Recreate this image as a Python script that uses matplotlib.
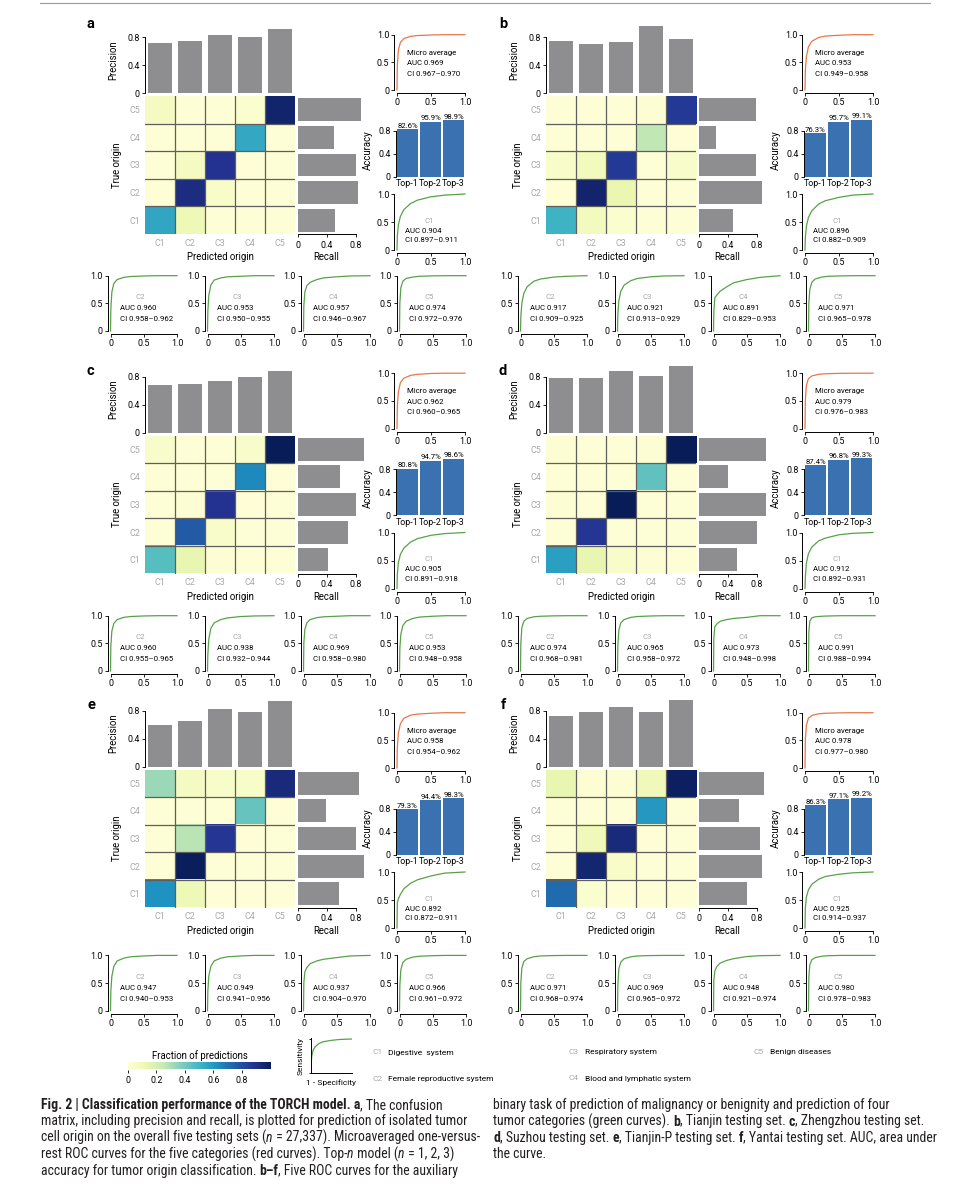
#!/usr/bin/env python3
# torch model fig 2 - confusion matrices, roc curves, accuracy bars

import numpy as np
import matplotlib
matplotlib.use("Agg")
import matplotlib.pyplot as plt
from matplotlib import font_manager
from matplotlib.lines import Line2D

W, H = 955, 1200


def pick_font(names):
    have = {f.name for f in font_manager.fontManager.ttflist}
    for n in names:
        if n in have:
            return n
    return 'DejaVu Sans'


FONT = pick_font(['Roboto', 'Inter', 'DejaVu Sans'])
CAP_FONT = pick_font(['Liberation Sans Narrow', 'Roboto Condensed', 'DejaVu Sans Condensed',
                      'Roboto', 'Liberation Sans'])
plt.rcParams['font.family'] = [FONT, 'DejaVu Sans']

# ---------------- data ----------------
classes = ['C1', 'C2', 'C3', 'C4', 'C5']
panels = ['a', 'b', 'c', 'd', 'e', 'f']
top_n = ['Top-1', 'Top-2', 'Top-3']

precision = {
    'a': [0.72, 0.75, 0.83, 0.80, 0.92],
    'b': [0.75, 0.71, 0.74, 0.96, 0.78],
    'c': [0.69, 0.70, 0.74, 0.80, 0.88],
    'd': [0.79, 0.79, 0.88, 0.81, 0.96],
    'e': [0.60, 0.66, 0.83, 0.78, 0.94],
    'f': [0.73, 0.78, 0.86, 0.78, 0.95],
}
recall = {
    'a': [0.51, 0.84, 0.81, 0.50, 0.88],
    'b': [0.47, 0.88, 0.79, 0.24, 0.79],
    'c': [0.42, 0.70, 0.81, 0.59, 0.92],
    'd': [0.53, 0.80, 0.93, 0.40, 0.93],
    'e': [0.57, 0.91, 0.80, 0.39, 0.85],
    'f': [0.66, 0.87, 0.85, 0.55, 0.90],
}
# rows = true C1..C5, columns = predicted C1..C5
confusion = {
    'a': [[0.51, 0.10, 0.01, 0.01, 0.01],
          [0.01, 0.84, 0.05, 0.01, 0.01],
          [0.01, 0.07, 0.81, 0.01, 0.01],
          [0.01, 0.01, 0.01, 0.50, 0.01],
          [0.07, 0.01, 0.01, 0.03, 0.88]],
    'b': [[0.47, 0.08, 0.03, 0.01, 0.01],
          [0.01, 0.88, 0.12, 0.01, 0.01],
          [0.05, 0.08, 0.79, 0.01, 0.04],
          [0.01, 0.01, 0.01, 0.24, 0.01],
          [0.01, 0.01, 0.01, 0.02, 0.79]],
    'c': [[0.42, 0.13, 0.02, 0.01, 0.01],
          [0.01, 0.70, 0.05, 0.01, 0.01],
          [0.01, 0.02, 0.81, 0.01, 0.01],
          [0.01, 0.01, 0.01, 0.59, 0.01],
          [0.04, 0.01, 0.01, 0.04, 0.92]],
    'd': [[0.53, 0.13, 0.04, 0.02, 0.01],
          [0.01, 0.80, 0.01, 0.01, 0.01],
          [0.02, 0.01, 0.93, 0.01, 0.01],
          [0.01, 0.01, 0.01, 0.40, 0.01],
          [0.02, 0.01, 0.01, 0.02, 0.93]],
    'e': [[0.57, 0.10, 0.01, 0.01, 0.01],
          [0.01, 0.91, 0.01, 0.01, 0.01],
          [0.01, 0.25, 0.80, 0.01, 0.01],
          [0.01, 0.01, 0.01, 0.39, 0.01],
          [0.30, 0.07, 0.05, 0.05, 0.85]],
    'f': [[0.66, 0.03, 0.01, 0.01, 0.01],
          [0.01, 0.87, 0.05, 0.01, 0.01],
          [0.01, 0.09, 0.85, 0.01, 0.01],
          [0.01, 0.01, 0.01, 0.55, 0.01],
          [0.13, 0.02, 0.02, 0.09, 0.90]],
}
accuracy = {
    'a': [82.6, 95.9, 98.9],
    'b': [76.3, 95.7, 99.1],
    'c': [80.8, 94.7, 98.6],
    'd': [87.4, 96.8, 99.3],
    'e': [79.3, 94.4, 98.3],
    'f': [86.3, 97.1, 99.2],
}
# (auc, ci low, ci high) for micro average then C1..C5
micro_auc = {
    'a': ('0.969', '0.967', '0.970'), 'b': ('0.953', '0.949', '0.958'),
    'c': ('0.962', '0.960', '0.965'), 'd': ('0.979', '0.976', '0.983'),
    'e': ('0.958', '0.954', '0.962'), 'f': ('0.978', '0.977', '0.980'),
}
class_auc = {
    'a': [('0.904', '0.897', '0.911'), ('0.960', '0.958', '0.962'), ('0.953', '0.950', '0.955'),
          ('0.957', '0.946', '0.967'), ('0.974', '0.972', '0.976')],
    'b': [('0.896', '0.882', '0.909'), ('0.917', '0.909', '0.925'), ('0.921', '0.913', '0.929'),
          ('0.891', '0.829', '0.953'), ('0.971', '0.965', '0.978')],
    'c': [('0.905', '0.891', '0.918'), ('0.960', '0.955', '0.965'), ('0.938', '0.932', '0.944'),
          ('0.969', '0.958', '0.980'), ('0.953', '0.948', '0.958')],
    'd': [('0.912', '0.892', '0.931'), ('0.974', '0.968', '0.981'), ('0.965', '0.958', '0.972'),
          ('0.973', '0.948', '0.998'), ('0.991', '0.988', '0.994')],
    'e': [('0.892', '0.872', '0.911'), ('0.947', '0.940', '0.953'), ('0.949', '0.941', '0.956'),
          ('0.937', '0.904', '0.970'), ('0.966', '0.961', '0.972')],
    'f': [('0.925', '0.914', '0.937'), ('0.971', '0.968', '0.974'), ('0.969', '0.965', '0.972'),
          ('0.948', '0.921', '0.974'), ('0.980', '0.978', '0.983')],
}

# roc curves: tpr read at these false positive rates
FPR = [0, 0.005, 0.02, 0.05, 0.1, 0.2, 0.3, 0.5, 0.7, 1.0]
micro_tpr = {
    'a': [0, 0.45, 0.72, 0.86, 0.93, 0.97, 0.985, 0.995, 1.0, 1.0],
    'b': [0, 0.35, 0.60, 0.78, 0.88, 0.95, 0.975, 0.99, 1.0, 1.0],
    'c': [0, 0.40, 0.66, 0.83, 0.91, 0.96, 0.98, 0.995, 1.0, 1.0],
    'd': [0, 0.50, 0.78, 0.90, 0.95, 0.98, 0.99, 0.997, 1.0, 1.0],
    'e': [0, 0.38, 0.63, 0.80, 0.90, 0.955, 0.975, 0.99, 1.0, 1.0],
    'f': [0, 0.50, 0.77, 0.90, 0.95, 0.98, 0.99, 0.997, 1.0, 1.0],
}
class_tpr = {
    'a': [[0, 0.25, 0.45, 0.60, 0.72, 0.83, 0.89, 0.95, 0.98, 1.0],
          [0, 0.40, 0.70, 0.86, 0.93, 0.97, 0.985, 0.995, 1.0, 1.0],
          [0, 0.35, 0.65, 0.83, 0.92, 0.96, 0.98, 0.99, 1.0, 1.0],
          [0, 0.45, 0.70, 0.82, 0.88, 0.93, 0.96, 0.98, 0.995, 1.0],
          [0, 0.50, 0.78, 0.90, 0.95, 0.975, 0.99, 0.997, 1.0, 1.0]],
    'b': [[0, 0.22, 0.42, 0.58, 0.70, 0.82, 0.88, 0.94, 0.98, 1.0],
          [0, 0.25, 0.50, 0.68, 0.80, 0.90, 0.94, 0.975, 0.99, 1.0],
          [0, 0.30, 0.55, 0.72, 0.83, 0.91, 0.95, 0.98, 0.995, 1.0],
          [0, 0.35, 0.60, 0.65, 0.72, 0.80, 0.87, 0.93, 0.97, 1.0],
          [0, 0.50, 0.75, 0.88, 0.94, 0.975, 0.99, 0.997, 1.0, 1.0]],
    'c': [[0, 0.25, 0.46, 0.61, 0.72, 0.83, 0.89, 0.95, 0.98, 1.0],
          [0, 0.45, 0.72, 0.86, 0.93, 0.97, 0.985, 0.995, 1.0, 1.0],
          [0, 0.30, 0.58, 0.77, 0.87, 0.93, 0.96, 0.985, 0.995, 1.0],
          [0, 0.50, 0.75, 0.87, 0.93, 0.965, 0.98, 0.99, 1.0, 1.0],
          [0, 0.40, 0.66, 0.82, 0.90, 0.95, 0.975, 0.99, 1.0, 1.0]],
    'd': [[0, 0.20, 0.45, 0.62, 0.74, 0.85, 0.90, 0.96, 0.985, 1.0],
          [0, 0.50, 0.78, 0.90, 0.95, 0.98, 0.99, 0.997, 1.0, 1.0],
          [0, 0.45, 0.74, 0.87, 0.93, 0.97, 0.985, 0.995, 1.0, 1.0],
          [0, 0.60, 0.80, 0.85, 0.90, 0.93, 0.95, 0.97, 1.0, 1.0],
          [0, 0.70, 0.90, 0.96, 0.98, 0.99, 0.995, 1.0, 1.0, 1.0]],
    'e': [[0, 0.45, 0.52, 0.60, 0.70, 0.80, 0.86, 0.93, 0.98, 1.0],
          [0, 0.35, 0.62, 0.80, 0.90, 0.95, 0.975, 0.99, 1.0, 1.0],
          [0, 0.35, 0.63, 0.80, 0.90, 0.95, 0.975, 0.99, 1.0, 1.0],
          [0, 0.50, 0.70, 0.78, 0.85, 0.90, 0.93, 0.96, 0.99, 1.0],
          [0, 0.45, 0.74, 0.87, 0.93, 0.97, 0.985, 0.995, 1.0, 1.0]],
    'f': [[0, 0.35, 0.55, 0.68, 0.78, 0.87, 0.92, 0.96, 0.985, 1.0],
          [0, 0.50, 0.77, 0.89, 0.94, 0.975, 0.99, 0.997, 1.0, 1.0],
          [0, 0.45, 0.76, 0.88, 0.94, 0.975, 0.99, 0.997, 1.0, 1.0],
          [0, 0.55, 0.72, 0.80, 0.86, 0.91, 0.94, 0.98, 0.995, 1.0],
          [0, 0.60, 0.83, 0.92, 0.96, 0.985, 0.995, 1.0, 1.0, 1.0]],
}
legend_tpr = [0, 0.30, 0.50, 0.66, 0.77, 0.87, 0.92, 0.96, 0.985, 1.0]

class_names = ['Digestive  system', 'Female reproductive system', 'Respiratory system',
               'Blood and lymphatic system', 'Benign diseases']
cbar_ticks = [0, 0.2, 0.4, 0.6, 0.8]

caption_left = [
    [("Fig. 2 | Classification performance of the TORCH model. a", "bold"), (", The confusion", "normal")],
    [("matrix, including precision and recall, is plotted for prediction of isolated tumor", "normal")],
    [("cell origin on the overall five testing sets (", "normal"), ("n", "italic"),
     (" = 27,337). Microaveraged one-versus-", "normal")],
    [("rest ROC curves for the five categories (red curves). Top-", "normal"), ("n", "italic"),
     (" model (", "normal"), ("n", "italic"), (" = 1, 2, 3)", "normal")],
    [("accuracy for tumor origin classification. ", "normal"), ("b\u2013f", "bold"),
     (", Five ROC curves for the auxiliary", "normal")],
]
caption_right = [
    [("binary task of prediction of malignancy or benignity and prediction of four", "normal")],
    [("tumor categories (green curves). ", "normal"), ("b", "bold"), (", Tianjin testing set. ", "normal"),
     ("c", "bold"), (", Zhengzhou testing set.", "normal")],
    [("d", "bold"), (", Suzhou testing set. ", "normal"), ("e", "bold"), (", Tianjin-P testing set. ", "normal"),
     ("f", "bold"), (", Yantai testing set. AUC, area under", "normal")],
    [("the curve.", "normal")],
]

# ---------------- styles ----------------
BAR_GRAY = '#8e8e90'
ACC_BLUE = '#3a72b1'
MICRO_COL = '#e8764a'
CLASS_COL = '#57a249'
LIGHT = '#a8a8a8'
CMAP = 'YlGnBu'
VMAX = 0.92
TICK_FS = 6.4
LAB_FS = 6.9
ANN_FS = 5.6

fig = plt.figure(figsize=(W / 100, H / 100), dpi=100)
renderer = fig.canvas.get_renderer()


def px_axes(left, top, right, bottom):
    return fig.add_axes([left / W, 1 - bottom / H, (right - left) / W, (bottom - top) / H])


def data_axes(x_px, x_val, y_px, y_val, xlim, ylim):
    # place axes so that data values land on the given pixel positions
    sx = (x_px[1] - x_px[0]) / (x_val[1] - x_val[0])
    sy = (y_px[1] - y_px[0]) / (y_val[1] - y_val[0])
    left = x_px[0] + (xlim[0] - x_val[0]) * sx
    right = x_px[0] + (xlim[1] - x_val[0]) * sx
    top = y_px[0] + (ylim[1] - y_val[0]) * sy
    bottom = y_px[0] + (ylim[0] - y_val[0]) * sy
    ax = px_axes(left, top, right, bottom)
    ax.set_xlim(xlim)
    ax.set_ylim(ylim)
    ax.patch.set_alpha(0)
    return ax


def ptxt(x, y, s, **kw):
    kw.setdefault('ha', 'center')
    kw.setdefault('va', 'center')
    return fig.text(x / W, 1 - y / H, s, **kw)


def tidy(ax):
    for sp in ax.spines.values():
        sp.set_linewidth(0.7)
    ax.tick_params(labelsize=TICK_FS, length=2.2, width=0.6, pad=1.5)


def roc_plot(x0, y0, sx, sy, tpr, color, texts):
    ax = data_axes((x0, x0 + sx), (0, 1), (y0, y0 - sy), (0, 1), (-0.04, 1.02), (-0.06, 1.03))
    ax.plot(FPR, tpr, color=color, lw=0.9)
    ax.spines['top'].set_visible(False)
    ax.spines['right'].set_visible(False)
    ax.spines['left'].set_bounds(0, 1)
    ax.spines['bottom'].set_bounds(0, 1)
    ax.set_xticks([0, 0.5, 1.0])
    ax.set_xticklabels(['0', '0.5', '1.0'])
    ax.set_yticks([0, 0.5, 1.0])
    ax.set_yticklabels(['0', '0.5', '1.0'])
    tidy(ax)
    for tx, ty, s, col, ha in texts:
        ax.text(tx, ty, s, color=col, ha=ha, va='center', fontsize=ANN_FS)
    return ax


LEFT_DX = [0, 401]
LEFT_DY = [0, 339.5, 673.5]
RIGHT_DX = [0, 408]
RIGHT_DY = [0, 338.5, 678]
BOTTOM_Y0 = [331, 671, 1010.7]
BOTTOM_X0 = [[110.5, 207.5, 303.5, 399.5], [520.5, 617.5, 713.5, 808.5]]
LETTER_POS = {'a': (90, 24), 'b': (503, 24), 'c': (90, 371), 'd': (503, 371), 'e': (91, 705), 'f': (503, 705)}

for i, p in enumerate(panels):
    col, row = i % 2, i // 2
    dx, dy = LEFT_DX[col], LEFT_DY[row]
    rdx, rdy = RIGHT_DX[col], RIGHT_DY[row]

    ptxt(*LETTER_POS[p], p, fontsize=10.5, fontweight='bold')

    # confusion matrix
    mat = np.array(confusion[p])
    ax = px_axes(145 + dx, 96 + dy, 295 + dx, 234 + dy)
    ax.imshow(mat, cmap=CMAP, vmin=0, vmax=VMAX, origin='lower', aspect='auto',
              extent=(-0.5, 4.5, -0.5, 4.5))
    for k in range(1, 5):
        ax.axhline(k - 0.5, color='#5e5e5e', lw=0.9)
        ax.axvline(k - 0.5, color='#5e5e5e', lw=0.9)
    for sp in ax.spines.values():
        sp.set_visible(False)
    ax.set_xticks(range(5))
    ax.set_xticklabels(classes, color=LIGHT)
    ax.set_yticks(range(5))
    ax.set_yticklabels(classes, color=LIGHT)
    ax.tick_params(length=0, labelsize=TICK_FS, pad=3.5)
    ptxt(220 + dx, 257.5 + dy, 'Predicted origin', fontsize=LAB_FS)
    ptxt(117 + dx, 165 + dy, 'True origin', fontsize=LAB_FS, rotation=90)

    # precision bars
    ax = data_axes((145 + dx, 295 + dx), (-0.5, 4.5), (93.3 + dy, 37.3 + dy), (0, 0.8),
                   (-0.5, 4.5), (0, 0.97))
    ax.bar(range(5), precision[p], width=0.82, color=BAR_GRAY)
    for sp in ['top', 'right', 'bottom']:
        ax.spines[sp].set_visible(False)
    ax.spines['left'].set_bounds(0, 0.8)
    ax.set_xticks([])
    ax.set_yticks([0, 0.4, 0.8])
    ax.set_yticklabels(['0', '0.4', '0.8'])
    tidy(ax)
    ptxt(113 + dx, 60 + dy, 'Precision', fontsize=LAB_FS, rotation=90)

    # recall bars
    ax = data_axes((298 + dx, 355.6 + dx), (0, 0.8), (96 + dy, 234 + dy), (4.5, -0.5),
                   (0, 0.95), (-0.5, 4.5))
    ax.barh(range(5), recall[p], height=0.83, color=BAR_GRAY)
    for sp in ['top', 'right', 'left']:
        ax.spines[sp].set_visible(False)
    ax.spines['bottom'].set_bounds(0, 0.8)
    ax.set_yticks([])
    ax.set_xticks([0, 0.4, 0.8])
    ax.set_xticklabels(['0', '0.4', '0.8'])
    tidy(ax)
    ax.tick_params(axis='x', pad=2.5)
    ptxt(326 + dx, 257.5 + dy, 'Recall', fontsize=LAB_FS)

    # micro average roc
    auc, lo, hi = micro_auc[p]
    roc_plot(397 + rdx, 90 + rdy, 68, 55.3, micro_tpr[p], MICRO_COL,
             [(0.14, 0.67, 'Micro average', 'black', 'left'),
              (0.14, 0.48, 'AUC ' + auc, 'black', 'left'),
              (0.14, 0.29, 'CI ' + lo + '\u2013' + hi, 'black', 'left')])

    # top-n accuracy
    ax = data_axes((396 + rdx, 465 + rdx), (-0.5, 2.5), (176.7 + rdy, 130.7 + rdy), (0, 0.8),
                   (-0.5, 2.5), (0, 1.06))
    acc = np.array(accuracy[p]) / 100
    ax.bar(range(3), acc, width=0.9, color=ACC_BLUE)
    for k, v in enumerate(accuracy[p]):
        ax.text(k, acc[k] + 0.005, f'{v:.1f}%', ha='center', va='bottom', fontsize=ANN_FS)
    for sp in ['top', 'right', 'bottom']:
        ax.spines[sp].set_visible(False)
    ax.spines['left'].set_bounds(0, 0.8)
    ax.set_yticks([0, 0.4, 0.8])
    ax.set_yticklabels(['0', '0.4', '0.8'])
    ax.set_xticks(range(3))
    ax.set_xticklabels(top_n)
    tidy(ax)
    ax.tick_params(axis='x', length=0, pad=2)
    ptxt(368 + rdx, 150 + rdy, 'Accuracy', fontsize=LAB_FS, rotation=90)

    # C1 roc under accuracy
    auc, lo, hi = class_auc[p][0]
    roc_plot(397 + rdx, 250 + rdy, 68, 56, class_tpr[p][0], CLASS_COL,
             [(0.47, 0.52, 'C1', LIGHT, 'center'),
              (0.12, 0.345, 'AUC ' + auc, 'black', 'left'),
              (0.12, 0.17, 'CI ' + lo + '\u2013' + hi, 'black', 'left')])

    # C2..C5 rocs along the bottom
    for k in range(1, 5):
        auc, lo, hi = class_auc[p][k]
        roc_plot(BOTTOM_X0[col][k - 1], BOTTOM_Y0[row], 66.5, 55.3, class_tpr[p][k], CLASS_COL,
                 [(0.45, 0.61, classes[k], LIGHT, 'center'),
                  (0.14, 0.41, 'AUC ' + auc, 'black', 'left'),
                  (0.14, 0.22, 'CI ' + lo + '\u2013' + hi, 'black', 'left')])

# ---------------- legend strip ----------------
cax = px_axes(128, 1062, 270, 1069.5)
grad = np.linspace(0, 1.0, 256)[None, :]
cax.imshow(grad, cmap=CMAP, vmin=0, vmax=1.0, aspect='auto', extent=(0, 1.0, 0, 1))
cax.set_xlim(0, 1.0)
cax.set_yticks([])
cax.set_xticks(cbar_ticks)
cax.set_xticklabels(['0', '0.2', '0.4', '0.6', '0.8'])
for sp in cax.spines.values():
    sp.set_visible(False)
cax.tick_params(axis='x', labelsize=TICK_FS, length=2.2, width=0.6, pad=2.5)
ptxt(200, 1055.5, 'Fraction of predictions', fontsize=6.9)

lax = data_axes((311, 351.5), (0, 1), (1073, 1039), (0, 1), (0, 1.02), (0, 1.02))
lax.plot(FPR, legend_tpr, color=CLASS_COL, lw=0.9)
lax.spines['top'].set_visible(False)
lax.spines['right'].set_visible(False)
for sp in lax.spines.values():
    sp.set_linewidth(0.7)
lax.set_xticks([])
lax.set_yticks([0, 1])
lax.set_yticklabels([])
lax.tick_params(length=1.8, width=0.6)
ptxt(301, 1056, 'Sensitivity', fontsize=6.0, rotation=90)
ptxt(331, 1083, '1 - Specificity', fontsize=6.0)

legend_pos = [(372, 1052.5), (372, 1079), (568, 1052), (568, 1078.5), (753, 1052)]
for k, (lx, ly) in enumerate(legend_pos):
    ptxt(lx, ly, classes[k], fontsize=6.0, color=LIGHT, ha='left')
    ptxt(lx + 16.5, ly, class_names[k], fontsize=6.0, ha='left')

# thin rule on top
fig.add_artist(Line2D([40 / W, 930 / W], [1 - 3 / H, 1 - 3 / H], color='#9a9a9a', lw=0.8))

# ---------------- caption ----------------


def run_kw(style, fs):
    kw = dict(fontsize=fs, family=[CAP_FONT, 'DejaVu Sans'], color='#231f20')
    if style == 'bold':
        kw['fontweight'] = 'bold'
    elif style == 'italic':
        kw['fontstyle'] = 'italic'
    return kw


def text_width(s, kw):
    t1 = fig.text(0, 0, s + '|', **kw)
    t2 = fig.text(0, 0, '|', **kw)
    w = t1.get_window_extent(renderer).width - t2.get_window_extent(renderer).width
    t1.remove()
    t2.remove()
    return w


def draw_runs(x, y, runs, fs):
    for s, style in runs:
        kw = run_kw(style, fs)
        fig.text(x / W, 1 - y / H, s, ha='left', va='baseline', **kw)
        x += text_width(s, kw)


# scale caption font so the second line spans the same width as the original
probe = text_width(caption_left[1][0][0], run_kw('normal', 10))
cap_fs = 10 * 426 / probe

base = 1109
for j, runs in enumerate(caption_left):
    draw_runs(40.7, base + j * 16.5, runs, cap_fs)
for j, runs in enumerate(caption_right):
    draw_runs(493, base + j * 16.5, runs, cap_fs)

fig.savefig('out.png', dpi=100)
print('done: out.png')
